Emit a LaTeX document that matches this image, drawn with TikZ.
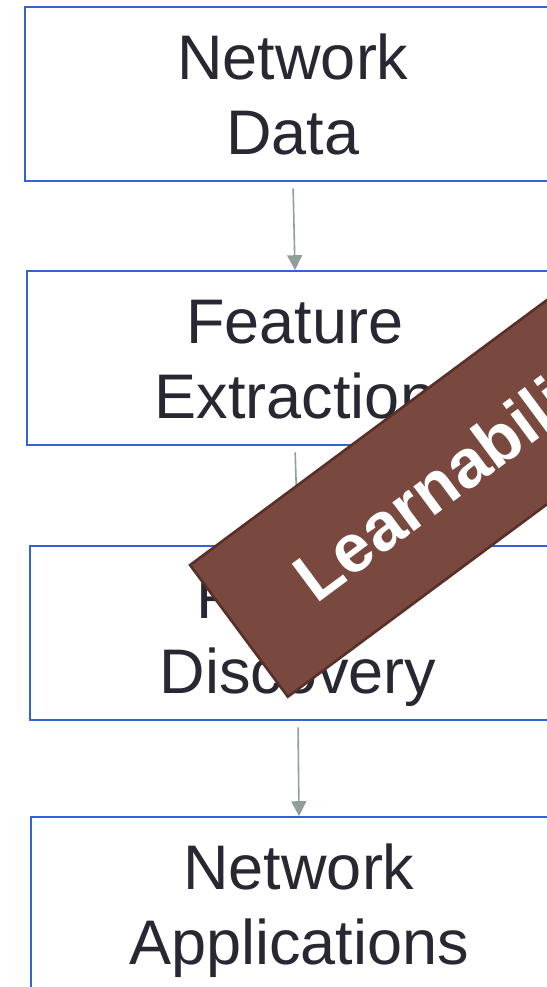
\documentclass[tikz,border=0pt]{standalone}
\usepackage{fontspec}
\setmainfont{Liberation Sans}
\usetikzlibrary{arrows.meta,positioning}

\definecolor{boxblue}{RGB}{52,98,214}
\definecolor{arrowgray}{RGB}{143,160,152}
\definecolor{inkdark}{RGB}{40,40,50}
\definecolor{bannerfill}{RGB}{121,72,62}
\definecolor{bannerdraw}{RGB}{88,48,40}

% strut so that all stage labels sit at the same height
\newcommand{\stagetop}{\rule{0pt}{30pt}}
\newcommand{\stagebot}{\vphantom{gy}}

\begin{document}
\begin{tikzpicture}[
  x=0.5pt, y=-0.5pt,
  line cap=round,
  stage/.style={
    draw=boxblue,
    line width=0.8pt,
    minimum width=268pt,
    minimum height=87pt,
    align=center,
    inner sep=0pt,
    text=inkdark,
    font=\fontsize{31.5}{37.5}\selectfont
  },
  flow/.style={
    -{Triangle[length=7.5pt,width=7.5pt]},
    line width=0.8pt,
    draw=arrowgray,
    shorten <=3.5pt
  },
  banner/.style={
    draw=bannerdraw,
    fill=bannerfill,
    line width=1.3pt,
    minimum width=269pt,
    minimum height=82pt,
    inner sep=0pt,
    text depth=0pt,
    text=white,
    font=\fontsize{34}{40}\selectfont\bfseries
  }
]
\useasboundingbox (0,0) rectangle (547,987);
\clip (0,0) rectangle (547,987);

% Stages
\node[stage] (data) at (293, 94)  {\stagetop Network\\Data\stagebot};
\node[stage] (feat) at (295, 358) {\stagetop Feature\\Extraction\stagebot};
\node[stage] (patt) at (298, 633) {\stagetop Pattern\\Discovery\stagebot};
\node[stage] (appl) at (299, 904) {\stagetop Network\\Applications\stagebot};

% Flow
\draw[flow] (data.south) -- (feat.north);
\draw[flow] (feat.south) -- (patt.north);
\draw[flow] (patt.south) -- (appl.north);

% Overlay
\node[banner, rotate=36.6] (learn) at (454.9, 470.5) {Learnability};

\end{tikzpicture}
\end{document}
